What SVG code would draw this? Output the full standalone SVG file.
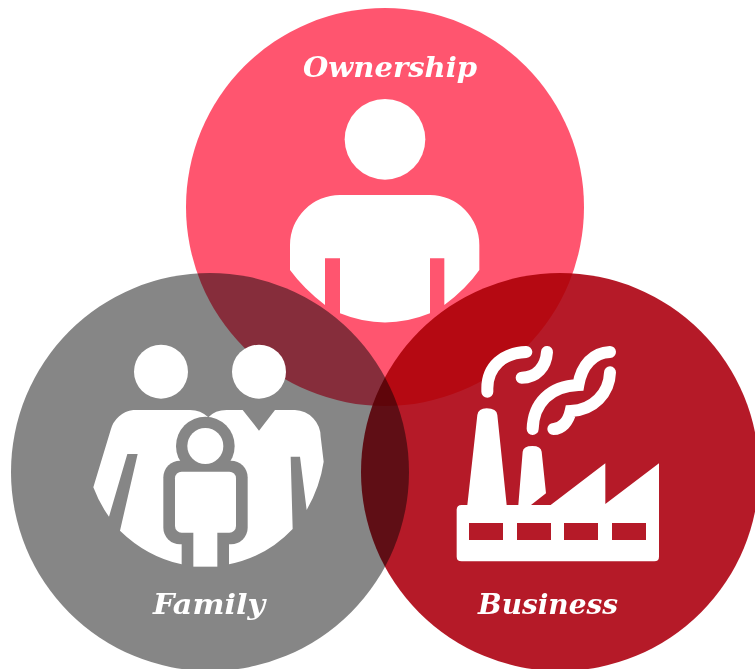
<svg xmlns="http://www.w3.org/2000/svg" width="755" height="669" viewBox="0 0 755 669">
<style>
.c{mix-blend-mode:multiply}
.w{fill:#fff}
.g{fill:#868686}
.r{fill:#b51a28}
.s{fill:none;stroke:#fff;stroke-width:36;stroke-linecap:round}
.t{font-family:"DejaVu Serif","Liberation Serif",serif;font-weight:700;font-style:italic;font-size:28px;fill:#fff;text-anchor:start}
</style>
<rect width="755" height="669" fill="#fff"/>
<g id="connectors"/>
<g id="circles">
<circle class="c" cx="385" cy="207" r="199" fill="#ff556f"/>
<circle class="c" cx="210" cy="472" r="199" fill="#868686"/>
<circle class="c" cx="560" cy="472" r="199" fill="#b51a28"/>
</g>
<g id="ownership">
<g transform="translate(270 40) scale(.33333)">
<circle class="w" cx="345" cy="298" r="121"/>
<path class="w" d="M60,690 L60,615 A150,150 0 0 1 210,465 L480,465 A148,150 0 0 1 628,615 L628,690 Q590,745 523,795 L523,655 L480,655 L480,820 Q345,875 210,820 L210,655 L165,655 L165,795 Q100,745 60,690 Z"/>
</g>
<text class="t" x="303" y="77" textLength="174" lengthAdjust="spacingAndGlyphs">Ownership</text>
</g>
<g id="family">
<g transform="translate(80 330) scale(.33333)">
<circle class="w" cx="243" cy="125" r="81"/>
<circle class="w" cx="537" cy="125" r="81"/>
<path class="w" d="M40,472 L92,300 A80,80 0 0 1 160,240 L330,240 Q362,240 385,262 Q405,240 440,240 L488,240 L537,302 L585,240 L645,240 A80,80 0 0 1 722,320 L731,395 Q720,470 680,540 L660,380 L632,380 L638,597 Q560,680 447,703 Q376,716 305,703 Q200,680 120,602 L173,372 L142,372 L87,560 Q58,520 40,472 Z"/>
<circle class="g" cx="376" cy="348" r="88"/>
<rect class="g" x="250" y="392" width="253" height="251" rx="50"/>
<rect class="g" x="305" y="620" width="142" height="100"/>
<circle class="w" cx="376" cy="348" r="54"/>
<rect class="w" x="285" y="425" width="183" height="183" rx="20"/>
<rect class="w" x="340" y="590" width="72" height="120"/>
</g>
<text class="t" x="153" y="614" textLength="112" lengthAdjust="spacingAndGlyphs">Family</text>
</g>
<g id="business">
<g transform="translate(440 330) scale(.33333)">
<path class="w" d="M50,540 Q50,525 65,525 L82,525 L112,255 Q115,235 140,235 Q170,235 172,255 L200,525 L235,525 L248,365 Q250,348 277,348 Q303,348 305,365 L318,490 L273,525 L332,525 L496,400 L496,522 L657,400 L657,680 Q657,694 643,694 L65,694 Q50,694 50,680 Z"/>
<rect class="r" x="87" y="579" width="102" height="51"/>
<rect class="r" x="231" y="579" width="102" height="51"/>
<rect class="r" x="372" y="579" width="102" height="51"/>
<rect class="r" x="516" y="579" width="102" height="51"/>
<path class="s" d="M142,185 L142,175 C142,110 190,68 259,66"/>
<path class="s" d="M321,66 C318,110 290,143 245,143"/>
<path class="s" d="M510,127 C508,190 460,240 392,243 C385,275 365,297 340,297"/>
<path class="s" d="M278,297 C280,220 330,168 415,165 C425,105 460,68 510,66"/>
</g>
<text class="t" x="478" y="614" textLength="140" lengthAdjust="spacingAndGlyphs">Business</text>
</g>
</svg>
